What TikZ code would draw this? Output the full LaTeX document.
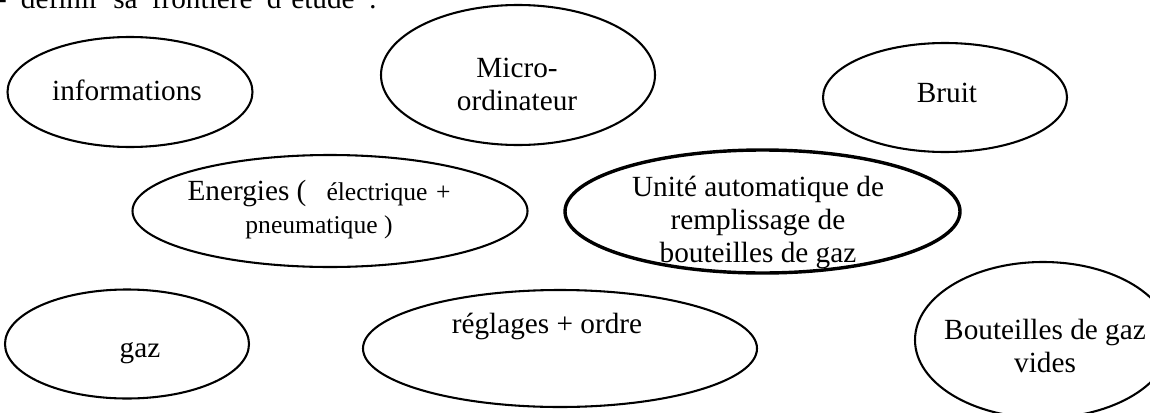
\documentclass[tikz,border=0pt]{standalone}
\usepackage{fontspec}
\setmainfont{Liberation Serif}
\usetikzlibrary{shapes.geometric}
\tikzset{
  % ellipse outline given by its two radii
  bubble/.style 2 args={ellipse, draw, line width=0.85pt, inner sep=0pt, outer sep=0pt,
    minimum width=0.82pt*#1, minimum height=0.82pt*#2},
  heavy/.style={line width=1.4pt},
  % text placed by the baseline of its last line
  lbl/.style={inner sep=0pt, outer sep=0pt, anchor=base, align=center,
    font=\fontsize{12}{13.5}\selectfont},
}
\newcommand{\smallsz}{\fontsize{10.5}{13.5}\selectfont}
\begin{document}
\begin{tikzpicture}[x=0.41pt, y=-0.41pt]
\useasboundingbox (0,0) rectangle (1150,412);

% heading line
\node[lbl, anchor=base west] (head) at (-3,8.5)
  {\makebox[155.8pt][s]{- définir sa frontière d’étude :}};

% top row
\node[bubble={122.5}{55}] (info) at (130,92) {};
\node[lbl] (infoT) at (127,100) {informations};

\node[bubble={137}{70}] (micro) at (518,75) {};
\node[lbl] (microT) at (517,110) {Micro-\\ordinateur};

\node[bubble={122}{54.5}] (bruit) at (945,97.5) {};
\node[lbl] (bruitT) at (947,102) {Bruit};

% middle row
\node[bubble={197.5}{56}] (energ) at (330,211) {};
\node[lbl] (energT) at (319,233)
  {Energies (\hspace{8.2pt}{\smallsz électrique\hspace{3.5pt}+}\\{\smallsz pneumatique )}};

\node[bubble={197.5}{61.5}, heavy] (unite) at (762.5,211.5) {};
\node[lbl] (uniteT) at (758,262)
  {Unité automatique de\\remplissage de\\bouteilles de gaz};

% bottom row
\node[bubble={122}{54.5}] (gaz) at (127,344) {};
\node[lbl] (gazT) at (140,357) {gaz};

\node[bubble={197}{58.5}] (regl) at (560,348.5) {};
\node[lbl] (reglT) at (547,333) {réglages + ordre};

\node[bubble={128}{78}] (bout) at (1043,340) {};
\node[lbl] (boutT) at (1045,372) {Bouteilles de gaz\\vides};
\end{tikzpicture}
\end{document}
